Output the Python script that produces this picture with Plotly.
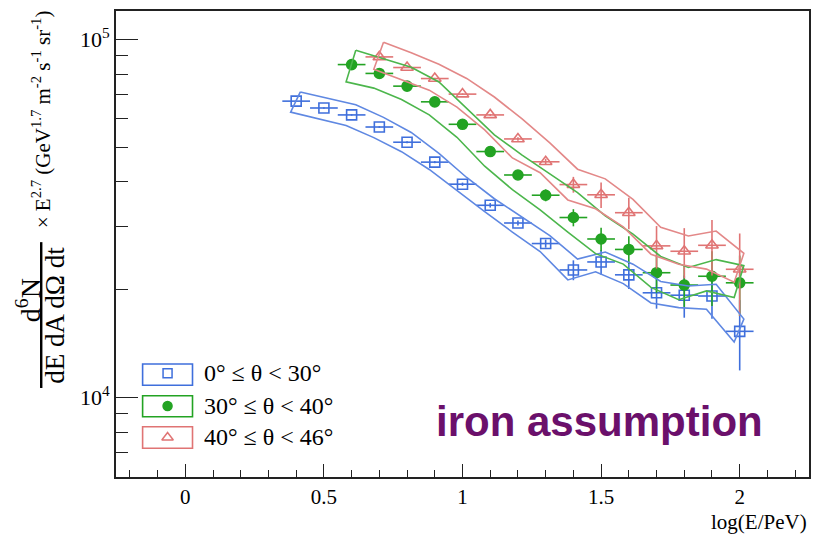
import plotly.graph_objects as go

# ---------------- data ----------------
# log10(E/PeV) bin centres for each zenith-angle band
loge_0_30 = [0.4, 0.5, 0.6, 0.7, 0.8, 0.9, 1.0, 1.1, 1.2, 1.3, 1.4, 1.5, 1.6, 1.7, 1.8, 1.9, 2.0]
loge_30_40 = [0.6, 0.7, 0.8, 0.9, 1.0, 1.1, 1.2, 1.3, 1.4, 1.5, 1.6, 1.7, 1.8, 1.9, 2.0]
loge_40_46 = [0.7, 0.8, 0.9, 1.0, 1.1, 1.2, 1.3, 1.4, 1.5, 1.6, 1.7, 1.8, 1.9, 2.0]

# flux x E^2.7  (GeV^1.7 m^-2 s^-1 sr^-1)
flux_0_30 = [67200, 64300, 61500, 56900, 51600, 45400, 39400, 34400, 30700,
             26900, 22700, 23900, 22000, 19600, 19300, 19200, 15300]
flux_30_40 = [85000, 80300, 74000, 66900, 57900, 48600, 41800, 36700, 31800,
              27700, 25900, 22300, 20600, 21800, 20900]
flux_40_46 = [89300, 83400, 77700, 70300, 61500, 52700, 45500, 39300, 36800,
              32800, 26500, 25600, 26600, 22800]

# statistical errors (same units)
stat_0_30 = [300, 300, 300, 300, 300, 300, 400, 500, 500, 700, 1450, 1900, 1900,
             1900, 2600, 2600, 3400]
stat_30_40 = [300, 300, 300, 300, 300, 400, 500, 1400, 1750, 2100, 2300, 2700,
              2700, 3800, 4000]
stat_40_46 = [300, 300, 300, 300, 400, 600, 900, 2000, 3000, 3300, 3600, 4100,
              4700, 5900]

# systematic band, relative (%) upper / lower edge
sys_up_0_30 = [6.1, 6.6, 6.7, 6.4, 6.5, 5.8, 4.4, 4.3, 3.9, 5.2, 7.3, 6.6, 7.1, 7.5, 6.1, 7.8, 8.2]
sys_dn_0_30 = [6.8, 6.6, 6.6, 6.6, 5.9, 4.6, 4.1, 4.0, 5.7, 5.0, 6.2, 6.1, 5.5, 6.3, 7.7, 8.2, 6.6]
sys_up_30_40 = [9.6, 9.8, 12.9, 13.6, 11.0, 11.3, 13.6, 14.5, 17.3, 16.1, 10.4, 11.0, 12.0, 11.3, 11.7]
sys_dn_30_40 = [10.5, 9.0, 8.2, 8.0, 8.0, 9.0, 9.0, 9.0, 9.0, 9.0, 9.0, 9.0, 9.0, 9.0, 9.0]
sys_up_40_46 = [9.9, 9.9, 9.6, 10.6, 12.2, 13.7, 12.9, 10.4, 10.8, 8.9, 12.7, 10.3, 9.6, 10.8]
sys_dn_40_46 = [7.6, 7.5, 7.2, 8.0, 9.2, 11.5, 6.8, 9.4, 8.6, 8.7, 5.2, 8.0, 14.2, 8.0]

# energy-scale shift of the band edges (in log10 E)
band_shift_up = 0.015
band_shift_dn = -0.02

half_bin = 0.05

labels = ["0° ≤ θ < 30°", "30° ≤ θ < 40°", "40° ≤ θ < 46°"]

BLUE = "#3f6fdc"
GREEN = "#23a323"
RED = "#e07474"
BAND_BLUE = "#5f88e2"
BAND_GREEN = "#4cb64c"
BAND_RED = "#e38888"

series = [
    dict(x=loge_0_30, y=flux_0_30, e=stat_0_30, up=sys_up_0_30, dn=sys_dn_0_30,
         color=BLUE, band=BAND_BLUE, symbol="square-open", size=10),
    dict(x=loge_30_40, y=flux_30_40, e=stat_30_40, up=sys_up_30_40, dn=sys_dn_30_40,
         color=GREEN, band=BAND_GREEN, symbol="circle", size=10),
    dict(x=loge_40_46, y=flux_40_46, e=stat_40_46, up=sys_up_40_46, dn=sys_dn_40_46,
         color=RED, band=BAND_RED, symbol="triangle-up-open", size=11),
]

fig = go.Figure()

# data points with statistical error bars
for s, name in zip(series, labels):
    fig.add_trace(go.Scatter(
        x=s["x"], y=s["y"], mode="markers", name=name, showlegend=False,
        marker=dict(symbol=s["symbol"], size=s["size"], color=s["color"],
                    line=dict(color=s["color"], width=1.6)),
        error_x=dict(type="constant", value=half_bin, color=s["color"],
                     thickness=1.6, width=0),
        error_y=dict(type="data", array=s["e"], color=s["color"],
                     thickness=1.6, width=0),
    ))

# systematic bands drawn as outlined polygons
for s in series:
    xu = [v + band_shift_up for v in s["x"]]
    yu = [f * (1 + p / 100) for f, p in zip(s["y"], s["up"])]
    xd = [v + band_shift_dn for v in s["x"]]
    yd = [f * (1 - p / 100) for f, p in zip(s["y"], s["dn"])]
    px = xu + xd[::-1] + [xu[0]]
    py = yu + yd[::-1] + [yu[0]]
    fig.add_trace(go.Scatter(x=px, y=py, mode="lines", showlegend=False,
                             line=dict(color=s["band"], width=1.6),
                             hoverinfo="skip"))

# legend markers on an overlay frame
leg_rows = [0.2225, 0.1524, 0.0848]
for s, yy in zip(series, leg_rows):
    fig.add_trace(go.Scatter(
        x=[0.0744], y=[yy], mode="markers", xaxis="x2", yaxis="y2",
        showlegend=False, hoverinfo="skip",
        marker=dict(symbol=s["symbol"], size=s["size"] - 1, color=s["color"],
                    line=dict(color=s["color"], width=1.5)),
    ))

serif = "Liberation Serif, Times New Roman, serif"

shapes = []
leg_boxes = [(0.1968, 0.2425), (0.1294, 0.1745), (0.0616, 0.1079)]
for s, (y0, y1) in zip(series, leg_boxes):
    shapes.append(dict(type="rect", xref="paper", yref="paper",
                       x0=0.0384, x1=0.1104, y0=y0, y1=y1,
                       line=dict(color=s["color"], width=1.6)))
# fraction bar of the y-axis title
shapes.append(dict(type="line", xref="paper", yref="paper",
                   x0=-0.1079, x1=-0.1079, y0=0.191, y1=0.504,
                   line=dict(color="black", width=2.4)))

annotations = []
for name, yy in zip(labels, leg_rows):
    annotations.append(dict(text=name, xref="paper", yref="paper", x=0.1247, y=yy,
                            xanchor="left", yanchor="middle", showarrow=False,
                            font=dict(family=serif, size=24, color="black")))

annotations += [
    dict(text="<b>iron assumption</b>", xref="paper", yref="paper", x=0.697, y=0.12,
         xanchor="center", yanchor="middle", showarrow=False,
         font=dict(family="Liberation Sans, Arial, sans-serif", size=42, color="#6b106b")),
    dict(text="log(E/PeV)", xref="paper", yref="paper", x=1.0, y=-0.0966,
         xanchor="right", yanchor="middle", showarrow=False,
         font=dict(family=serif, size=21, color="black")),
    dict(text="d<sup>6</sup>N", xref="paper", yref="paper", x=-0.1252, y=0.38,
         xanchor="center", yanchor="middle", showarrow=False, textangle=-90,
         font=dict(family=serif, size=28, color="black")),
    dict(text="dE dA dΩ dt", xref="paper", yref="paper", x=-0.0885, y=0.3476,
         xanchor="center", yanchor="middle", showarrow=False, textangle=-90,
         font=dict(family=serif, size=27, color="black")),
    dict(text="× E<sup>2.7</sup> (GeV<sup>1.7</sup> m<sup>-2</sup> s<sup>-1</sup> sr<sup>-1</sup>)",
         xref="paper", yref="paper", x=-0.108, y=0.768,
         xanchor="center", yanchor="middle", showarrow=False, textangle=-90,
         font=dict(family=serif, size=21, color="black")),
]

y_minor = [v * 10 ** d for d in (3, 4) for v in range(2, 10)]
y_minor = [v for v in y_minor if 6000 <= v <= 120000 and v not in (10000, 100000)]

fig.update_layout(
    width=813, height=538,
    margin=dict(l=116, r=2, t=11, b=61),
    paper_bgcolor="white", plot_bgcolor="white",
    shapes=shapes, annotations=annotations,
    xaxis=dict(range=[-0.25, 2.25], showgrid=False, zeroline=False,
               showline=True, mirror=True, linecolor="#222", linewidth=1.6,
               ticks="inside", ticklen=13, tickwidth=1.4, tickcolor="#222",
               tickvals=[0, 0.5, 1, 1.5, 2], ticktext=["0", "0.5", "1", "1.5", "2"],
               tickfont=dict(family=serif, size=21, color="black"),
               minor=dict(ticks="inside", ticklen=7, tickwidth=1.2, tickcolor="#222",
                          dtick=0.1, tick0=0, showgrid=False)),
    yaxis=dict(type="log", range=[3.778, 5.079], showgrid=False, zeroline=False,
               showline=True, mirror=True, linecolor="#222", linewidth=1.6,
               ticks="inside", ticklen=22, tickwidth=1.4, tickcolor="#222",
               tickvals=[1e4, 1e5], ticktext=["10<sup>4</sup>", "10<sup>5</sup>"],
               tickfont=dict(family=serif, size=22, color="black"),
               minor=dict(ticks="inside", ticklen=12, tickwidth=1.2, tickcolor="#222",
                          tickmode="array", tickvals=y_minor, showgrid=False)),
    xaxis2=dict(range=[0, 1], overlaying="x", visible=False, domain=[0, 1]),
    yaxis2=dict(range=[0, 1], overlaying="y", visible=False, domain=[0, 1]),
)

fig.write_html("out.html")
